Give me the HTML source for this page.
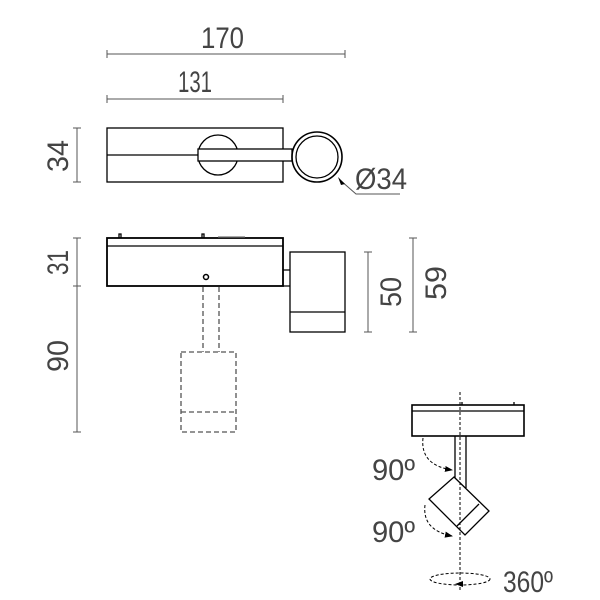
<!DOCTYPE html>
<html><head><meta charset="utf-8"><style>body{margin:0;background:#fff}svg{display:block}text{font-family:"Liberation Sans",sans-serif;fill:#444;font-size:30px}</style></head><body>
<svg width="600" height="600" viewBox="0 0 600 600" xmlns="http://www.w3.org/2000/svg">
<defs><marker id="a" markerWidth="8" markerHeight="8" refX="7" refY="4" orient="auto"><path d="M0,1 L8,4 L0,7Z" fill="#000"/></marker></defs>
<g stroke="#555" stroke-width="1" fill="none">
<line x1="107" y1="54" x2="345" y2="54"/><line x1="107" y1="50" x2="107" y2="58"/><line x1="345" y1="50" x2="345" y2="58"/>
<line x1="107" y1="99" x2="283" y2="99"/><line x1="107" y1="95" x2="107" y2="103"/><line x1="283" y1="95" x2="283" y2="103"/>
<line x1="77" y1="128" x2="77" y2="182"/><line x1="73" y1="128" x2="81" y2="128"/><line x1="73" y1="182" x2="81" y2="182"/>
<line x1="77" y1="238" x2="77" y2="432"/><line x1="73" y1="238" x2="81" y2="238"/><line x1="73" y1="286" x2="81" y2="286"/><line x1="73" y1="432" x2="81" y2="432"/>
<line x1="368" y1="252" x2="368" y2="332"/><line x1="364" y1="252" x2="372" y2="252"/><line x1="364" y1="332" x2="372" y2="332"/>
<line x1="413" y1="238" x2="413" y2="332"/><line x1="409" y1="238" x2="417" y2="238"/><line x1="409" y1="332" x2="417" y2="332"/>
<polyline points="340,180 356,194 400,194"/>
</g>
<path d="M338,177 L345,184 L341,185Z" fill="#000"/>
<g fill="none" stroke="#000" stroke-width="1.3">
<rect x="107" y="128" width="176" height="54"/>
<line x1="107" y1="155" x2="198" y2="155"/>
<circle cx="218" cy="155" r="20" fill="#fff"/>
<rect x="198" y="149" width="94" height="12" fill="#fff"/>
<circle cx="317" cy="157" r="25" stroke-width="1.6"/><circle cx="317" cy="157" r="21"/>
<rect x="107" y="238" width="176" height="48" stroke-width="1.8"/>
<line x1="107" y1="246" x2="283" y2="246"/>
<path d="M119,238 v-4 h2 v4 M202,238 v-4 h2 v4"/>
<line x1="218" y1="237" x2="245" y2="237" stroke="#777"/>
<circle cx="206" cy="277" r="2.5" stroke-width="1.5"/>
<rect x="290" y="252" width="55" height="80"/><line x1="290" y1="312" x2="345" y2="312"/>
<path d="M283,270 h7 M283,286 h7"/>
</g>
<g fill="none" stroke="#555" stroke-width="1.3" stroke-dasharray="5,3">
<path d="M203,287 V352 M219,287 V352"/>
<rect x="181" y="352" width="55" height="80"/><line x1="181" y1="412" x2="236" y2="412"/>
</g>
<g fill="none" stroke="#000" stroke-width="1.3">
<rect x="412" y="405" width="112" height="31" stroke-width="1.6"/>
<line x1="412" y1="411" x2="524" y2="411"/>
<path d="M462,405 v-3 M514,405 v-3"/>
<path d="M455,436 V480 M466,436 V488"/>
<polygon points="454,477 489,511 465,535 429,499" fill="#fff"/>
<line x1="457" y1="526" x2="479" y2="504"/>
</g>
<g fill="none" stroke="#000" stroke-width="1" stroke-dasharray="3,2">
<line x1="460" y1="392" x2="460" y2="590"/>
<ellipse cx="460" cy="579" rx="30" ry="6"/>
<path d="M423,438 Q420,465 452,470" marker-end="url(#a)"/>
<path d="M425,505 Q422,530 452,536" marker-end="url(#a)"/>
<path d="M460,584 L456,584" marker-end="url(#a)"/>
</g>
<text x="201" y="48" textLength="43" lengthAdjust="spacingAndGlyphs">170</text>
<text x="178" y="92" textLength="34" lengthAdjust="spacingAndGlyphs">131</text>
<text x="355" y="189" textLength="52" lengthAdjust="spacingAndGlyphs">Ø34</text>
<text transform="translate(68,172) rotate(-90)" textLength="32" lengthAdjust="spacingAndGlyphs">34</text>
<text transform="translate(68,275) rotate(-90)" textLength="25" lengthAdjust="spacingAndGlyphs">31</text>
<text transform="translate(68,372) rotate(-90)" textLength="32" lengthAdjust="spacingAndGlyphs">90</text>
<text transform="translate(401,307) rotate(-90)" textLength="30" lengthAdjust="spacingAndGlyphs">50</text>
<text transform="translate(446,300) rotate(-90)" textLength="34" lengthAdjust="spacingAndGlyphs">59</text>
<text x="372" y="480" textLength="43" lengthAdjust="spacingAndGlyphs">90º</text>
<text x="372" y="542" textLength="43" lengthAdjust="spacingAndGlyphs">90º</text>
<text x="503" y="592" textLength="50" lengthAdjust="spacingAndGlyphs">360º</text>
</svg>
</body></html>
